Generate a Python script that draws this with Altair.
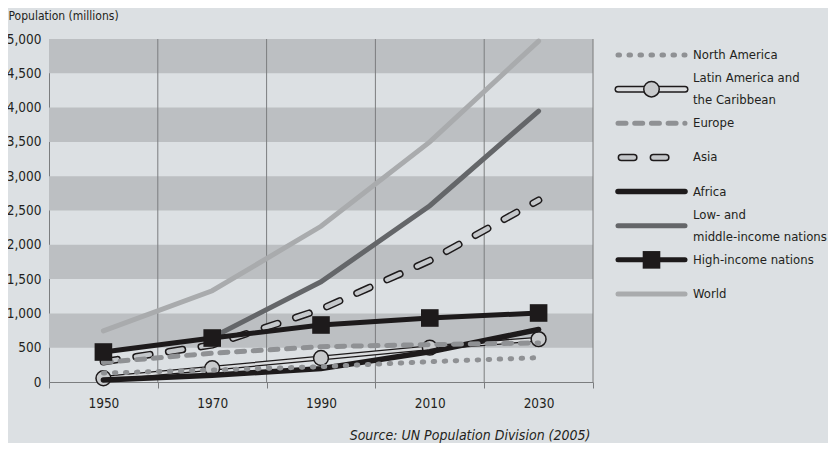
import altair as alt
import pandas as pd

# ---------------- data ----------------
years = [1950, 1970, 1990, 2010, 2030]
north_america = [130, 175, 223, 296, 355]
latin_america = [55, 200, 350, 500, 625]
europe = [285, 420, 515, 545, 570]
asia = [295, 540, 1060, 1770, 2650]
africa = [30, 100, 195, 440, 765]
low_middle = [None, 650, 1460, 2570, 3950]
high_income = [437, 641, 831, 933, 1006]
world = [745, 1330, 2270, 3500, 4970]

y_ticks = list(range(0, 5001, 500))
x_axis_values = list(range(1940, 2041, 10))
grid_years = [1960, 1980, 2000, 2020, 2040]
band_starts = [500, 1500, 2500, 3500, 4500]
band_size = 500

legend_labels = [
    "North America",
    "Latin America and\nthe Caribbean",
    "Europe",
    "Asia",
    "Africa",
    "Low- and\nmiddle-income nations",
    "High-income nations",
    "World",
]

FONT = "DejaVu Sans Condensed, Liberation Sans Narrow, sans-serif"
TEXT = "#231f20"
BG = "#dce0e3"
BAND = "#bcbfc2"
GRID = "#7b7d7f"
BLACK = "#1d1a1b"
LIGHTGREY = "#a9abad"
DARKGREY = "#646669"
MIDGREY = "#8f9194"
ASIA_FILL = "#c5c8cb"
LATIN_FILL = "#dadcde"
CIRCLE_FILL = "#c8cacc"

W, H = 544, 343


def sdf(vals):
    return pd.DataFrame({"year": years, "value": vals}).dropna()


x_axis = alt.Axis(
    values=x_axis_values,
    labelExpr="datum.value % 20 == 10 ? datum.label : ''",
    format="d",
    tickSize=6,
    tickColor=GRID,
    tickOpacity={"condition": {"test": "datum.value % 20 == 0", "value": 1}, "value": 0},
    domainColor=GRID,
    grid=False,
    labelFontSize=13.5,
    labelColor=TEXT,
    labelPadding=8,
    labelOverlap=False,
    labelFlush=False,
    title="Source: UN Population Division (2005)",
    titleFontStyle="italic",
    titleFontWeight="normal",
    titleFontSize=14,
    titleColor=TEXT,
    titleAnchor="end",
    titleAlign="right",
    titleBaseline="middle",
    titleX=541,
    titleY=53,
)

y_axis = alt.Axis(
    values=y_ticks,
    format=",d",
    ticks=False,
    domainColor=GRID,
    grid=False,
    labelFontSize=13.5,
    labelColor=TEXT,
    labelPadding=8,
    title="Population (millions)",
    titleAngle=0,
    titleAlign="left",
    titleBaseline="alphabetic",
    titleX=-41,
    titleY=-20,
    titleFontWeight="normal",
    titleFontSize=12,
    titleColor=TEXT,
)

xs = alt.Scale(domain=[1940, 2040], nice=False, zero=False)
ys = alt.Scale(domain=[0, 5000], nice=False)


def X(field="year"):
    return alt.X(f"{field}:Q", scale=xs, axis=x_axis)


def Y(field="value"):
    return alt.Y(f"{field}:Q", scale=ys, axis=y_axis)


bands_df = pd.DataFrame({
    "year": [1940] * len(band_starts),
    "year_end": [2040] * len(band_starts),
    "value": band_starts,
    "value_end": [b + band_size for b in band_starts],
})
bands = alt.Chart(bands_df).mark_rect(color=BAND).encode(
    x=X(), x2="year_end:Q", y=Y(), y2="value_end:Q"
)

grid = alt.Chart(pd.DataFrame({"year": grid_years})).mark_rule(
    color=GRID, strokeWidth=1
).encode(x=X())


def line(vals, **kw):
    return alt.Chart(sdf(vals)).mark_line(**kw).encode(x=X(), y=Y())


layers = [
    bands,
    grid,
    line(world, color=LIGHTGREY, strokeWidth=5, strokeCap="round"),
    line(low_middle, color=DARKGREY, strokeWidth=5, strokeCap="round"),
    line(asia, color=BLACK, strokeWidth=7.5, strokeCap="round", strokeDash=[14, 19]),
    line(asia, color=ASIA_FILL, strokeWidth=4.5, strokeCap="round", strokeDash=[14, 19]),
    line(latin_america, color=BLACK, strokeWidth=5, strokeCap="round"),
    line(latin_america, color=LATIN_FILL, strokeWidth=2.5, strokeCap="round"),
    alt.Chart(sdf(latin_america)).mark_circle(
        size=220, fill=CIRCLE_FILL, stroke=BLACK, strokeWidth=1.5, opacity=1
    ).encode(x=X(), y=Y()),
    line(africa, color=BLACK, strokeWidth=5.5, strokeCap="round"),
    line(europe, color=MIDGREY, strokeWidth=5, strokeCap="round", strokeDash=[8, 8.7]),
    line(north_america, color=MIDGREY, strokeWidth=5, strokeCap="round", strokeDash=[1.5, 9.5]),
    line(high_income, color=BLACK, strokeWidth=5),
    alt.Chart(sdf(high_income)).mark_square(size=310, color=BLACK, opacity=1).encode(
        x=X(), y=Y()
    ),
]

main = alt.layer(*layers)

# ---------------- legend (own scales, placed right of the plot) ----------------
leg_df = pd.DataFrame({
    "i": list(range(len(legend_labels))),
    "label": legend_labels,
    "x0": 0.0,
    "x1": 1.0,
    "xm": 0.5,
    "xa0": 0.05,
    "xa1": 0.85,
})
n_leg = len(legend_labels)
lxs = alt.Scale(domain=[0, 1], range=[569, 636], nice=False, zero=False)
lys = alt.Scale(domain=[0, n_leg - 1], range=[16, 255], nice=False, zero=False)


def leg_base(k):
    return alt.Chart(leg_df).transform_filter(f"datum.i == {k}")


def leg_rule(k, a="x0", b="x1", **kw):
    return leg_base(k).mark_rule(**kw).encode(
        x=alt.X(f"{a}:Q", scale=lxs, axis=None),
        x2=f"{b}:Q",
        y=alt.Y("i:Q", scale=lys, axis=None),
    )


def leg_pt(k, mark):
    return mark.encode(
        x=alt.X("xm:Q", scale=lxs, axis=None),
        y=alt.Y("i:Q", scale=lys, axis=None),
    )


def leg_text(single):
    test = "indexof(datum.label, '\\n') < 0" if single else "indexof(datum.label, '\\n') >= 0"
    return alt.Chart(leg_df).transform_filter(test).mark_text(
        align="left", baseline="middle", dx=8, dy=0 if single else -11,
        fontSize=13, lineBreak="\n", lineHeight=22, color=TEXT
    ).encode(
        x=alt.X("x1:Q", scale=lxs, axis=None),
        y=alt.Y("i:Q", scale=lys, axis=None),
        text="label:N",
    )


leg_layers = [
    leg_rule(0, color=MIDGREY, strokeWidth=5, strokeCap="round", strokeDash=[1.5, 9.5]),
    leg_rule(1, color=BLACK, strokeWidth=7, strokeCap="round"),
    leg_rule(1, color=LATIN_FILL, strokeWidth=4, strokeCap="round"),
    leg_pt(1, leg_base(1).mark_circle(size=240, fill=CIRCLE_FILL, stroke=BLACK, strokeWidth=1.5, opacity=1)),
    leg_rule(2, color=MIDGREY, strokeWidth=5, strokeCap="round", strokeDash=[8, 8.7]),
    leg_rule(3, "xa0", "xa1", color=BLACK, strokeWidth=7.5, strokeCap="round", strokeDash=[12.5, 19.5]),
    leg_rule(3, "xa0", "xa1", color=ASIA_FILL, strokeWidth=4.5, strokeCap="round", strokeDash=[12.5, 19.5]),
    leg_rule(4, color=BLACK, strokeWidth=5.5, strokeCap="round"),
    leg_rule(5, color=DARKGREY, strokeWidth=5, strokeCap="round"),
    leg_rule(6, color=BLACK, strokeWidth=5, strokeCap="round"),
    leg_pt(6, leg_base(6).mark_square(size=310, color=BLACK, opacity=1)),
    leg_rule(7, color=LIGHTGREY, strokeWidth=5, strokeCap="round"),
    leg_text(True),
    leg_text(False),
]

legend = alt.layer(*leg_layers)

chart = alt.layer(main, legend).resolve_scale(
    x="independent", y="independent"
).properties(
    width=W,
    height=H,
    autosize=alt.AutoSizeParams(type="none"),
    padding={"left": 41, "top": 31, "right": 235, "bottom": 61},
).configure_view(
    stroke=None
).configure(
    background=BG,
    font=FONT,
)

chart.save("out.html", embed_options={"renderer": "svg", "actions": False})
